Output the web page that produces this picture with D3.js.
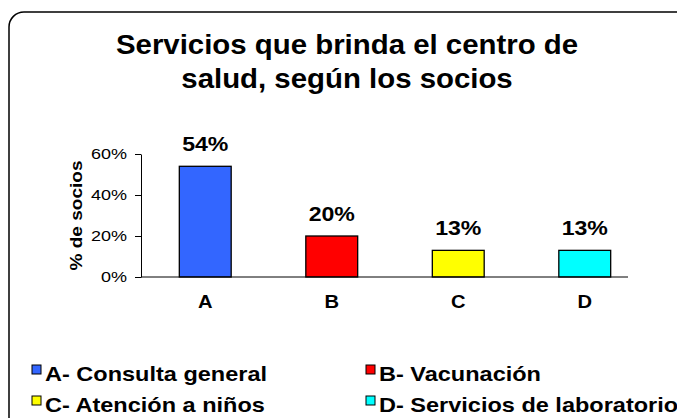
<!DOCTYPE html>
<html>
<head>
<meta charset="utf-8">
<script src="https://cdn.jsdelivr.net/npm/d3@7"></script>
<style>
  body { margin: 0; background: #fff; }
  text { font-family: "Liberation Sans", Arial, sans-serif; fill: #000; }
</style>
</head>
<body>
<div id="chart"></div>
<script>
var categories = ["A", "B", "C", "D"];
var values = [54, 20, 13, 13];
var colors = ["#3366ff", "#ff0000", "#ffff00", "#00ffff"];
var legendLabels = ["A- Consulta general", "B- Vacunación", "C- Atención a niños", "D- Servicios de laboratorios"];
var yTicks = [0, 20, 40, 60];
var titleLines = ["Servicios que brinda el centro de", "salud, según los socios"];

var W = 677, H = 418;
var svg = d3.select("#chart").append("svg")
    .attr("width", W)
    .attr("height", H);

// outer frame (runs off right and bottom like the original)
svg.append("rect")
    .attr("x", 9).attr("y", 12)
    .attr("width", 682).attr("height", 422)
    .attr("rx", 15)
    .attr("fill", "none")
    .attr("stroke", "#000")
    .attr("stroke-width", 1.5);

// text helper; the source image is a bit stretched horizontally
function txt(x, y, s, size, sx, anchor, weight, rot) {
  return svg.append("text")
      .attr("transform", "translate(" + x + "," + y + ")" + (rot ? " rotate(" + rot + ")" : "") + " scale(" + sx + ",1)")
      .attr("text-anchor", anchor)
      .attr("font-size", size)
      .attr("font-weight", weight)
      .text(s);
}

titleLines.forEach(function(t, i) {
  txt(347, 54 + i * 34, t, 28, 1.05, "middle", "bold");
});

var x = d3.scaleBand().domain(categories).range([142, 648])
    .paddingInner(0.59).paddingOuter(0.295);
var y = d3.scaleLinear().domain([0, 60]).range([277, 154]);

// y axis
var yAxis = svg.append("g")
    .attr("transform", "translate(141,0)")
    .call(d3.axisLeft(y).tickValues(yTicks).tickSize(6).tickSizeOuter(0).tickFormat(function() { return ""; }));
yAxis.select(".domain").attr("stroke", "#000");
yAxis.selectAll(".tick line").attr("stroke", "#000");

yTicks.forEach(function(t) {
  txt(127, y(t) + 5, t + "%", 15, 1.2, "end", "normal");
});

txt(82, (y(0) + y(60)) / 2, "% de socios", 17, 1.12, "middle", "bold", -90);

// bars
svg.selectAll("rect.bar")
  .data(values)
  .enter().append("rect")
    .attr("class", "bar")
    .attr("x", function(d, i) { return x(categories[i]); })
    .attr("y", function(d) { return y(d); })
    .attr("width", x.bandwidth())
    .attr("height", function(d) { return y(0) - y(d); })
    .attr("fill", function(d, i) { return colors[i]; })
    .attr("stroke", "#000")
    .attr("stroke-width", 1.3);

// baseline
svg.append("line")
    .attr("x1", 141).attr("x2", 628)
    .attr("y1", y(0)).attr("y2", y(0))
    .attr("stroke", "#000");

values.forEach(function(v, i) {
  var cx = x(categories[i]) + x.bandwidth() / 2;
  txt(cx, y(v) - 15, v + "%", 21, 1.1, "middle", "bold");
  txt(cx, 308, categories[i], 18, 1.12, "middle", "bold");
});

// legend
legendLabels.forEach(function(l, i) {
  var lx = i % 2 === 0 ? 32 : 366;
  var ly = 365 + Math.floor(i / 2) * 31;
  svg.append("rect")
      .attr("x", lx).attr("y", ly)
      .attr("width", 9).attr("height", 9)
      .attr("fill", colors[i])
      .attr("stroke", "#000")
      .attr("stroke-width", 1);
  txt(lx + 13, ly + 16, l, 21, 1.12, "start", "bold");
});
</script>
</body>
</html>
